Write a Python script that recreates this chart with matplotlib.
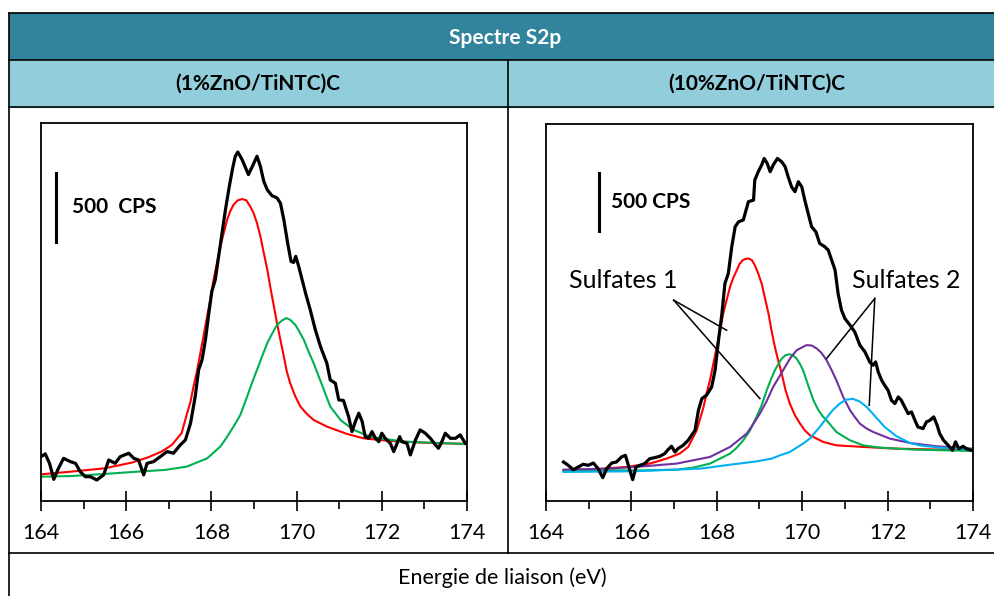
import matplotlib
matplotlib.use('Agg')
import matplotlib.pyplot as plt
from matplotlib.patches import Rectangle
from matplotlib.lines import Line2D

plt.rcParams['font.family'] = ['Lato', 'DejaVu Sans']

# ---- data: binding energy (eV) / intensity (CPS) ----
# (1%ZnO/TiNTC)C
e_exp1 = [164.00, 164.10, 164.20, 164.30, 164.41, 164.53, 164.69, 164.81, 164.92, 165.04,
          165.16, 165.31, 165.47, 165.59, 165.74, 165.86, 166.06, 166.18, 166.29, 166.41,
          166.49, 166.64, 166.80, 166.96, 167.11, 167.27, 167.39, 167.51, 167.62, 167.70,
          167.78, 167.86, 167.94, 168.01, 168.09, 168.17, 168.25, 168.33, 168.42, 168.50,
          168.56, 168.62, 168.72, 168.87, 168.98, 169.07, 169.15, 169.23, 169.31, 169.42,
          169.54, 169.62, 169.70, 169.79, 169.87, 169.93, 169.98, 170.05, 170.13, 170.21,
          170.32, 170.44, 170.56, 170.71, 170.79, 170.91, 170.99, 171.10, 171.22, 171.30,
          171.38, 171.46, 171.54, 171.61, 171.69, 171.77, 171.85, 171.93, 172.00, 172.08,
          172.20, 172.28, 172.36, 172.42, 172.47, 172.59, 172.67, 172.79, 172.90, 173.02,
          173.14, 173.26, 173.33, 173.41, 173.49, 173.61, 173.73, 173.84, 173.96]
i_exp1 = [321, 341, 273, 157, 237, 309, 285, 273, 213, 176,
          176, 152, 189, 297, 273, 321, 346, 309, 297, 189,
          273, 285, 321, 358, 346, 406, 442, 563, 757, 950,
          1022, 1167, 1361, 1518, 1602, 1772, 1941, 2110, 2279, 2412,
          2497, 2528, 2473, 2364, 2436, 2497, 2424, 2315, 2255, 2212,
          2195, 2158, 2038, 1868, 1735, 1728, 1772, 1699, 1602, 1506,
          1385, 1240, 1119, 998, 877, 853, 732, 728, 612, 503,
          575, 636, 575, 466, 454, 503, 454, 430, 491, 454,
          418, 358, 418, 466, 430, 418, 334, 442, 515, 491,
          454, 406, 382, 430, 491, 454, 454, 479, 418]

e_red1 = [164.00, 164.72, 165.50, 166.13, 166.52, 166.83, 167.07, 167.30, 167.43, 167.51,
          167.58, 167.66, 167.74, 167.82, 167.90, 167.98, 168.05, 168.13, 168.21, 168.29,
          168.37, 168.44, 168.52, 168.62, 168.72, 168.82, 168.91, 168.99, 169.07, 169.15,
          169.23, 169.31, 169.38, 169.46, 169.54, 169.62, 169.70, 169.77, 169.85, 169.97,
          170.09, 170.24, 170.40, 170.71, 171.18, 171.57, 172.12, 172.90, 174.00]
i_red1 = [193, 213, 237, 278, 317, 358, 406, 491, 636, 720,
          829, 938, 1071, 1204, 1337, 1470, 1602, 1723, 1844, 1941,
          2038, 2098, 2146, 2178, 2187, 2178, 2134, 2086, 2013, 1917,
          1796, 1680, 1554, 1421, 1288, 1167, 1047, 938, 853, 757,
          684, 631, 587, 539, 486, 454, 437, 423, 413]

e_green1 = [164.00, 164.72, 165.50, 166.28, 166.91, 167.42, 167.90, 168.21, 168.37, 168.52,
            168.68, 168.84, 168.95, 169.07, 169.19, 169.31, 169.42, 169.54, 169.66, 169.76,
            169.85, 169.97, 170.05, 170.17, 170.28, 170.40, 170.52, 170.64, 170.79, 170.91,
            171.03, 171.18, 171.34, 171.73, 172.51, 174.00]
i_green1 = [176, 181, 196, 213, 225, 249, 309, 394, 466, 539,
            624, 757, 853, 950, 1047, 1143, 1209, 1276, 1308, 1325,
            1312, 1276, 1235, 1167, 1083, 998, 902, 805, 684, 636,
            587, 551, 515, 466, 430, 413]

# (10%ZnO/TiNTC)C
e_exp2 = [164.41, 164.52, 164.64, 164.76, 164.87, 164.99, 165.11, 165.22, 165.33, 165.42,
          165.54, 165.65, 165.77, 165.86, 165.94, 166.03, 166.11, 166.20, 166.31, 166.43,
          166.55, 166.67, 166.78, 166.86, 166.94, 167.02, 167.09, 167.21, 167.33, 167.41,
          167.49, 167.57, 167.65, 167.76, 167.88, 167.96, 168.04, 168.12, 168.19, 168.27,
          168.35, 168.43, 168.51, 168.62, 168.74, 168.86, 168.89, 168.97, 169.05, 169.11,
          169.18, 169.25, 169.32, 169.42, 169.52, 169.60, 169.67, 169.75, 169.83, 169.91,
          169.99, 170.06, 170.14, 170.22, 170.32, 170.41, 170.53, 170.61, 170.69, 170.77,
          170.84, 170.92, 171.00, 171.12, 171.23, 171.35, 171.47, 171.58, 171.66, 171.72,
          171.78, 171.86, 171.93, 172.01, 172.09, 172.17, 172.25, 172.32, 172.40, 172.48,
          172.56, 172.64, 172.71, 172.83, 172.91, 172.99, 173.08, 173.16, 173.22, 173.31,
          173.42, 173.52, 173.59, 173.67, 173.77, 173.84, 173.96]
i_exp2 = [340, 311, 273, 297, 320, 311, 331, 282, 203, 282,
          331, 340, 384, 398, 297, 186, 297, 311, 326, 369,
          378, 390, 413, 448, 477, 427, 456, 485, 529, 573,
          616, 791, 892, 922, 994, 1140, 1401, 1634, 1895, 1983,
          2215, 2390, 2433, 2448, 2608, 2622, 2797, 2869, 2927, 2985,
          2942, 2869, 2927, 2985, 2956, 2913, 2826, 2738, 2695, 2782,
          2738, 2622, 2506, 2390, 2346, 2244, 2215, 2186, 2099, 2012,
          1808, 1663, 1590, 1532, 1474, 1358, 1299, 1212, 1183, 1212,
          1125, 1052, 1009, 965, 878, 849, 907, 878, 820, 762,
          776, 703, 645, 631, 689, 703, 733, 660, 587, 529,
          485, 442, 515, 456, 477, 456, 442]

e_red2 = [164.41, 165.11, 165.89, 166.43, 166.82, 167.13, 167.33, 167.45, 167.53, 167.61,
          167.69, 167.76, 167.84, 167.92, 168.00, 168.08, 168.15, 168.23, 168.31, 168.39,
          168.47, 168.53, 168.61, 168.66, 168.74, 168.82, 168.89, 168.97, 169.05, 169.13,
          169.21, 169.28, 169.36, 169.44, 169.52, 169.61, 169.71, 169.83, 169.95, 170.06,
          170.18, 170.49, 170.80, 171.43, 172.21, 174.00]
i_red2 = [267, 276, 297, 326, 369, 413, 471, 558, 616, 718,
          820, 936, 1052, 1198, 1343, 1488, 1634, 1750, 1866, 1948,
          2012, 2064, 2099, 2108, 2113, 2099, 2055, 1983, 1895, 1765,
          1634, 1488, 1343, 1221, 1110, 965, 849, 747, 674, 616,
          573, 515, 485, 471, 456, 442]

e_green2 = [164.41, 165.50, 166.28, 167.06, 167.45, 167.84, 168.31, 168.47, 168.62, 168.78,
            168.93, 169.05, 169.17, 169.26, 169.36, 169.44, 169.52, 169.61, 169.70, 169.79,
            169.87, 169.95, 170.02, 170.10, 170.18, 170.27, 170.38, 170.48, 170.57, 170.80,
            170.96, 171.12, 171.43, 171.82, 172.60, 174.00]
i_green2 = [262, 267, 267, 273, 291, 326, 413, 465, 529, 616,
            733, 834, 965, 1052, 1140, 1192, 1241, 1270, 1279, 1267,
            1241, 1192, 1140, 1052, 965, 872, 791, 738, 703, 602,
            564, 529, 485, 465, 448, 436]

e_purple2 = [164.41, 165.50, 166.28, 167.06, 167.45, 167.84, 168.31, 168.70, 168.86, 169.01,
             169.17, 169.32, 169.46, 169.60, 169.73, 169.87, 169.99, 170.10, 170.22, 170.34,
             170.45, 170.57, 170.69, 170.80, 170.88, 170.96, 171.12, 171.23, 171.35, 171.51,
             171.66, 172.05, 172.52, 173.14, 174.00]
i_purple2 = [273, 282, 302, 326, 355, 384, 471, 587, 674, 762,
             872, 994, 1081, 1169, 1250, 1314, 1337, 1358, 1355, 1329,
             1291, 1227, 1140, 1052, 980, 907, 791, 733, 674, 631,
             602, 544, 506, 477, 456]

e_cyan2 = [164.41, 166.05, 167.61, 168.39, 168.93, 169.28, 169.48, 169.71, 169.87, 170.02,
           170.18, 170.41, 170.65, 170.73, 170.88, 171.04, 171.19, 171.35, 171.51, 171.72,
           171.93, 172.21, 172.52, 172.75, 173.22, 174.00]
i_cyan2 = [253, 259, 282, 320, 345, 369, 398, 427, 465, 500,
           544, 645, 762, 797, 849, 884, 890, 866, 820, 733,
           645, 564, 506, 485, 465, 448]

xticks = [164, 166, 168, 170, 172, 174]
col_exp = 'black'
col_s1a = '#FF0000'
col_s1b = '#00B050'
col_s2a = '#7030A0'
col_s2b = '#00B0F0'

W, H = 994, 596
fig = plt.figure(figsize=(W / 100, H / 100), dpi=100)


def fx(x):
    return x / W


def fy(y):
    return 1 - y / H


# ---- table look ----
fig.patches.append(Rectangle((fx(9), fy(60)), fx(1010) - fx(9), fy(13) - fy(60),
                             transform=fig.transFigure, color='#31849B', zorder=0))
fig.patches.append(Rectangle((fx(9), fy(107)), fx(1010) - fx(9), fy(60) - fy(107),
                             transform=fig.transFigure, color='#92CDDC', zorder=0))
for yy in [13, 60, 107, 553]:
    fig.lines.append(Line2D([fx(9), 1], [fy(yy), fy(yy)], transform=fig.transFigure,
                            color='black', lw=1.2))
fig.lines.append(Line2D([fx(9), fx(9)], [fy(13), 0], transform=fig.transFigure,
                        color='black', lw=1.2))
fig.lines.append(Line2D([fx(508), fx(508)], [fy(60), fy(553)], transform=fig.transFigure,
                        color='black', lw=1.2))

fig.text(fx(505), fy(38), 'Spectre S2p', color='white', fontweight='bold',
         fontsize=15, ha='center', va='center')
fig.text(fx(258), fy(84), '(1%ZnO/TiNTC)C', fontweight='bold', fontsize=15,
         ha='center', va='center')
fig.text(fx(757), fy(84), '(10%ZnO/TiNTC)C', fontweight='bold', fontsize=15,
         ha='center', va='center')
fig.text(fx(502), fy(578), 'Energie de liaison (eV)', fontsize=15.5,
         ha='center', va='center')

# ---- plots ----
ax1 = fig.add_axes([fx(41), fy(501), fx(467) - fx(41), fy(123) - fy(501)])
ax2 = fig.add_axes([fx(546), fy(501), fx(973) - fx(546), fy(124) - fy(501)])

for ax in (ax1, ax2):
    ax.set_xlim(164, 174)
    ax.set_xticks(xticks)
    ax.set_xticks(range(165, 174, 2), minor=True)
    ax.set_yticks([])
    ax.tick_params(which='major', direction='inout', length=15, width=1.2,
                   labelsize=15.5, pad=8)
    ax.tick_params(which='minor', direction='out', length=6, width=1.2)
    for s in ax.spines.values():
        s.set_linewidth(1.3)

fit_kw = dict(lw=1.5, solid_joinstyle='round')
exp_kw = dict(color=col_exp, lw=2.3, solid_joinstyle='round')

ax1.set_ylim(0, 2738)
ax1.plot(e_red1, i_red1, color=col_s1a, **fit_kw)
ax1.plot(e_green1, i_green1, color=col_s1b, **fit_kw)
ax1.plot(e_exp1, i_exp1, **exp_kw)
ax1.plot([164.36, 164.36], [1873, 2376], color='black', lw=2.2)
ax1.text(164.73, 2129, '500  CPS', fontweight='bold', fontsize=15, va='center')

ax2.set_ylim(0, 3285)
ax2.plot(e_red2, i_red2, color=col_s1a, **fit_kw)
ax2.plot(e_green2, i_green2, color=col_s1b, **fit_kw)
ax2.plot(e_purple2, i_purple2, color=col_s2a, **fit_kw)
ax2.plot(e_cyan2, i_cyan2, color=col_s2b, **fit_kw)
ax2.plot(e_exp2, i_exp2, **exp_kw)
ax2.plot([165.25, 165.25], [2355, 2855], color='black', lw=2.2)
ax2.text(165.53, 2602, '500 CPS', fontweight='bold', fontsize=15, va='center')

# annotations
ax2.text(165.82, 1924, 'Sulfates 1', fontsize=18, ha='center', va='center')
ax2.plot([166.99, 168.23], [1750, 1488], color='black', lw=1.1)
ax2.plot([166.99, 169.01], [1750, 892], color='black', lw=1.1)
ax2.text(172.43, 1924, 'Sulfates 2', fontsize=18, ha='center', va='center')
ax2.plot([171.70, 170.57], [1765, 1241], color='black', lw=1.1)
ax2.plot([171.70, 171.57], [1765, 834], color='black', lw=1.1)

fig.savefig('out.png', dpi=100)
